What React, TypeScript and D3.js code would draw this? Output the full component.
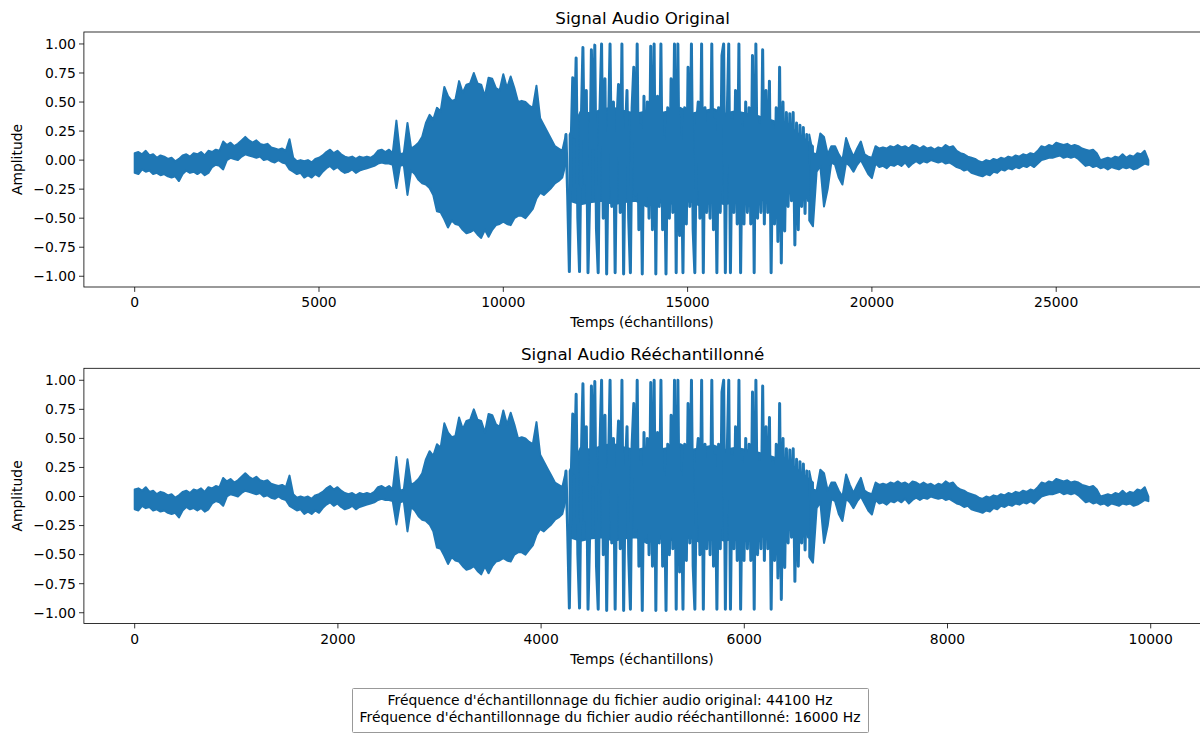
import React from 'react';
import * as d3 from 'd3';

// Sampling rates shown in the caption
const ORIG_RATE = 44100;
const NEW_RATE = 16000;
const ORIG_LEN = 27562;
const NEW_LEN = 10000;

// Waveform, indexed by original sample number.
// Noisy stretches are kept as max / min per bin, the loud voiced burst as the wave itself.

// quiet head: t = 0, 100, ... 6800
const headHi = [
  0.06, 0.07, 0.05, 0.08, 0.04, 0.05, 0.02, 0.04, 0.03, 0.01, 0.02, -0.01, 0.01, 0.04, 0.05, 0.03, 0.06, 0.05, 0.07, 0.04,
  0.08, 0.07, 0.09, 0.08, 0.16, 0.13, 0.15, 0.12, 0.14, 0.17, 0.2, 0.17, 0.15, 0.17, 0.14, 0.13, 0.14, 0.11, 0.1, 0.09,
  0.1, 0.08, 0.18, 0.02, -0.01, 0.0, -0.01, 0.0, -0.02, 0.01, 0.02, 0.04, 0.07, 0.09, 0.06, 0.08, 0.05, 0.03, 0.02, 0.03,
  0.01, 0.03, 0.02, 0.03, 0.02, 0.04, 0.08, 0.09, 0.07,
];
const headLo = [
  -0.11, -0.12, -0.08, -0.1, -0.09, -0.12, -0.11, -0.13, -0.12, -0.14, -0.15, -0.14, -0.18, -0.12, -0.09, -0.11, -0.1, -0.12, -0.1, -0.13,
  -0.11, -0.06, -0.04, -0.05, -0.08, 0.0, 0.02, 0.01, 0.0, 0.03, 0.05, 0.04, 0.03, 0.02, 0.03, 0.0, 0.01, -0.01, -0.02, 0.0,
  -0.02, -0.03, -0.08, -0.1, -0.12, -0.11, -0.15, -0.13, -0.15, -0.12, -0.14, -0.1, -0.07, -0.05, -0.08, -0.06, -0.09, -0.11, -0.1, -0.08,
  -0.11, -0.09, -0.08, -0.07, -0.06, -0.05, -0.03, -0.02, -0.03,
];
// buzz: t = 6900, 7000, ... 11700
const buzzHi = [0.09, 0.06, 0.34, 0.05, 0.06, 0.32, 0.1, 0.12, 0.15, 0.2, 0.32, 0.39, 0.35, 0.45, 0.42, 0.63, 0.55, 0.51, 0.52, 0.68, 0.58, 0.65, 0.66, 0.75, 0.66, 0.65, 0.55, 0.71, 0.7, 0.62, 0.6, 0.74, 0.62, 0.72, 0.62, 0.5, 0.51, 0.5, 0.47, 0.45, 0.64, 0.36, 0.3, 0.24, 0.18, 0.12, 0.1, 0.08, 0.22];
const buzzLo = [-0.03, -0.04, -0.24, -0.05, -0.04, -0.3, -0.09, -0.12, -0.17, -0.2, -0.21, -0.24, -0.3, -0.44, -0.45, -0.51, -0.58, -0.52, -0.55, -0.56, -0.6, -0.63, -0.62, -0.6, -0.64, -0.67, -0.6, -0.66, -0.6, -0.56, -0.55, -0.53, -0.55, -0.56, -0.5, -0.48, -0.48, -0.5, -0.46, -0.42, -0.33, -0.28, -0.3, -0.27, -0.24, -0.2, -0.18, -0.15, -0.02];
// voiced burst, the wave itself: t = 11700, 11746, ... (step 46)
const burstWave = [
  0.22, -0.3, -0.96, 0.1, 0.71, 0.2,
  0.88, -0.5, -0.96, 0.3, 0.97, -0.2,
  0.6, -0.97, -0.3, 0.95, 0.1, 0.99,
  -0.6, -0.97, 0.4, 1.0, -0.5, 0.7,
  -0.98, 0.2, 1.0, -0.4, 0.5, -0.97,
  0.3, 0.65, -0.45, 1.0, -0.98, 0.2,
  0.6, -0.5, -0.97, 0.45, 0.8, -0.3,
  1.0, -0.6, 0.3, -0.98, 0.55, -0.35,
  0.5, -0.5, 0.98, -0.6, 1.0, -0.98,
  0.55, -0.4, 1.0, -0.6, 0.2, -0.98,
  0.45, -0.5, 0.7, -0.45, 1.0, -0.97,
  1.0, -0.65, 0.2, -0.97, 0.45, -0.55,
  0.8, -0.4, 1.0, -0.6, -0.97, 0.3,
  0.5, -0.5, 1.0, -0.97, 0.45, -0.45,
  0.4, -0.5, 1.0, -0.6, 0.35, -0.97,
  0.45, -0.45, 0.9, 1.0, -0.97, 0.3,
  1.0, -0.97, 0.35, -0.45, 0.6, -0.55,
  1.0, -0.97, 0.3, -0.55, 0.5, -0.45,
  0.45, -0.55, 0.9, -0.97, 1.0, -0.5,
  0.3, -0.45, 0.95, -0.55, 0.6, -0.45,
  0.68, -0.97, 0.3, -0.55, 0.45, -0.7,
  0.8, -0.885, 0.5, -0.61, 0.41, -0.4,
  0.4, -0.35, 0.41, -0.73, 0.32, -0.6,
  0.3, -0.4, 0.28, -0.46, 0.22, -0.35,
];
// dense middle of the burst, max / min: t = 11800, 12100, ... 18400
const coreHi = [0.22, 0.42, 0.4, 0.44, 0.45, 0.42, 0.4, 0.42, 0.4, 0.42, 0.45, 0.4, 0.42, 0.44, 0.4, 0.42, 0.4, 0.38, 0.35, 0.32, 0.28, 0.2, 0.12];
const coreLo = [-0.35, -0.38, -0.36, -0.35, -0.38, -0.36, -0.35, -0.4, -0.36, -0.38, -0.35, -0.36, -0.4, -0.35, -0.38, -0.36, -0.35, -0.35, -0.34, -0.32, -0.28, -0.26, -0.2];
// decay: t = 18300, 18400, ... 20200
const decayHi = [0.22, 0.06, 0.05, 0.23, 0.2, 0.05, 0.12, 0.12, 0.05, 0.0, 0.19, 0.1, 0.03, 0.1, 0.16, 0.05, 0.03, 0.02, 0.12, 0.1];
const decayLo = [-0.52, -0.57, -0.1, -0.05, -0.4, -0.25, -0.02, -0.04, -0.15, -0.21, -0.02, -0.05, -0.1, -0.04, 0.0, -0.06, -0.12, -0.155, -0.03, -0.06];
// quiet tail: t = 20300, 20400, ... 27500
const tailHi = [
  0.11, 0.1, 0.12, 0.11, 0.13, 0.11, 0.12, 0.1, 0.13, 0.12, 0.1, 0.12, 0.1, 0.11, 0.09, 0.11, 0.1, 0.13, 0.11, 0.12,
  0.08, 0.06, 0.05, 0.03, 0.02, 0.01, -0.01, -0.02, 0.0, -0.01, 0.01, 0.0, 0.02, 0.01, 0.03, 0.02, 0.04, 0.03, 0.05, 0.04,
  0.06, 0.05, 0.08, 0.12, 0.11, 0.13, 0.12, 0.15, 0.14, 0.13, 0.14, 0.12, 0.13, 0.12, 0.1, 0.09, 0.08, 0.09, 0.06, 0.0,
  0.01, 0.02, 0.01, 0.03, 0.02, 0.05, 0.02, 0.04, 0.03, 0.06, 0.05, 0.08, 0.0,
];
const tailLo = [
  -0.05, -0.07, -0.04, -0.05, -0.03, -0.05, -0.02, -0.06, -0.03, -0.01, -0.03, -0.01, -0.02, 0.0, -0.01, -0.02, -0.01, -0.03, -0.02, -0.04,
  -0.06, -0.07, -0.09, -0.08, -0.11, -0.12, -0.13, -0.14, -0.12, -0.13, -0.1, -0.11, -0.08, -0.09, -0.07, -0.08, -0.06, -0.07, -0.05, -0.06,
  -0.04, -0.06, -0.03, 0.0, 0.01, 0.02, 0.02, 0.03, 0.04, 0.02, 0.03, 0.02, 0.03, 0.01, -0.02, -0.05, -0.04, -0.06, -0.05, -0.07,
  -0.06, -0.08, -0.06, -0.07, -0.08, -0.06, -0.07, -0.06, -0.08, -0.07, -0.05, -0.03, -0.04,
];

const yTicks = [-1, -0.75, -0.5, -0.25, 0, 0.25, 0.5, 0.75, 1];
const xTicksOrig = [0, 5000, 10000, 15000, 20000, 25000];
const xTicksNew = [0, 2000, 4000, 6000, 8000, 10000];

const captionLines = [
  "Fréquence d'échantillonnage du fichier audio original: 44100 Hz",
  "Fréquence d'échantillonnage du fichier audio rééchantillonné: 16000 Hz",
];

type Bin = { t: number; hi: number; lo: number };
type Pt = { t: number; v: number };

const seg = (start: number, step: number, hi: number[], lo: number[]): Bin[] =>
  hi.map((h, i) => ({ t: start + i * step, hi: h, lo: lo[i] }));

const headBins: Bin[] = [...seg(0, 100, headHi, headLo), ...seg(6900, 100, buzzHi, buzzLo)];
const coreBins: Bin[] = seg(11800, 300, coreHi, coreLo);
const burstPts: Pt[] = burstWave.map((v, i) => ({ t: 11700 + i * 46, v }));
const tailBins: Bin[] = [...seg(18300, 100, decayHi, decayLo), ...seg(20300, 100, tailHi, tailLo)];

// the resampled file holds the same sound on a 16 kHz grid
const toNew = (t: number) => (t * NEW_RATE) / ORIG_RATE;

const FONT = '"DejaVu Sans", sans-serif';
const BLUE = '#1f77b4';
const fmt = d3.format('.2f');

const LEFT = 83.9;
const RIGHT = 1201.4;

function Panel({ top, bottom, title, n, xTicks, tx }: {
  top: number; bottom: number; title: string; n: number; xTicks: number[]; tx: (t: number) => number;
}) {
  const x = d3.scaleLinear().domain([-0.05 * (n - 1), 1.05 * (n - 1)]).range([LEFT, RIGHT]);
  const y = d3.scaleLinear().domain([-1.0925, 1.103]).range([bottom, top]);
  const area = d3.area<Bin>().x(d => x(tx(d.t))).y0(d => y(d.lo)).y1(d => y(d.hi));
  const line = d3.line<Pt>().x(d => x(tx(d.t))).y(d => y(d.v));

  return (
    <g>
      <g fill={BLUE} stroke={BLUE} strokeWidth={2} strokeLinejoin="round" strokeLinecap="round">
        <path d={area(headBins) || ''} />
        <path d={area(coreBins) || ''} />
        <path d={area(tailBins) || ''} />
        <path d={line(burstPts) || ''} fill="none" strokeWidth={3} />
      </g>
      <rect x={LEFT} y={top} width={RIGHT - LEFT} height={bottom - top} fill="none" stroke="#000" strokeWidth={0.8} />
      {yTicks.map(v => (
        <g key={v}>
          <line x1={LEFT - 4.9} x2={LEFT} y1={y(v)} y2={y(v)} stroke="#000" strokeWidth={0.8} />
          <text x={LEFT - 8} y={y(v)} dy="0.35em" textAnchor="end" fontSize={13.9} fontFamily={FONT}>{fmt(v)}</text>
        </g>
      ))}
      {xTicks.map(v => (
        <g key={v}>
          <line x1={x(v)} x2={x(v)} y1={bottom} y2={bottom + 4.9} stroke="#000" strokeWidth={0.8} />
          <text x={x(v)} y={bottom + 20} textAnchor="middle" fontSize={13.9} fontFamily={FONT}>{v}</text>
        </g>
      ))}
      <text x={(LEFT + 1200) / 2} y={bottom + 40} textAnchor="middle" fontSize={13.9} fontFamily={FONT}>Temps (échantillons)</text>
      <text transform={`translate(22,${(top + bottom) / 2}) rotate(-90)`} textAnchor="middle" fontSize={13.9} fontFamily={FONT}>Amplitude</text>
      <text x={(LEFT + RIGHT) / 2} y={top - 8.3} textAnchor="middle" fontSize={16.7} fontFamily={FONT}>{title}</text>
    </g>
  );
}

export default function App() {
  return (
    <svg width={1200} height={735} style={{ position: 'absolute', left: 0, top: 0, background: '#fff' }}>
      <rect width={1200} height={735} fill="#fff" />
      <Panel top={32} bottom={287} title="Signal Audio Original" n={ORIG_LEN} xTicks={xTicksOrig} tx={t => t} />
      <Panel top={368.3} bottom={623.5} title="Signal Audio Rééchantillonné" n={NEW_LEN} xTicks={xTicksNew} tx={toNew} />
      <rect x={352.5} y={688.5} width={516} height={44} fill="#fff" stroke="#999" strokeWidth={1} rx={1} />
      {captionLines.map((s, i) => (
        <text key={i} x={610} y={705 + i * 17} textAnchor="middle" fontSize={13.9} fontFamily={FONT}>{s}</text>
      ))}
    </svg>
  );
}
